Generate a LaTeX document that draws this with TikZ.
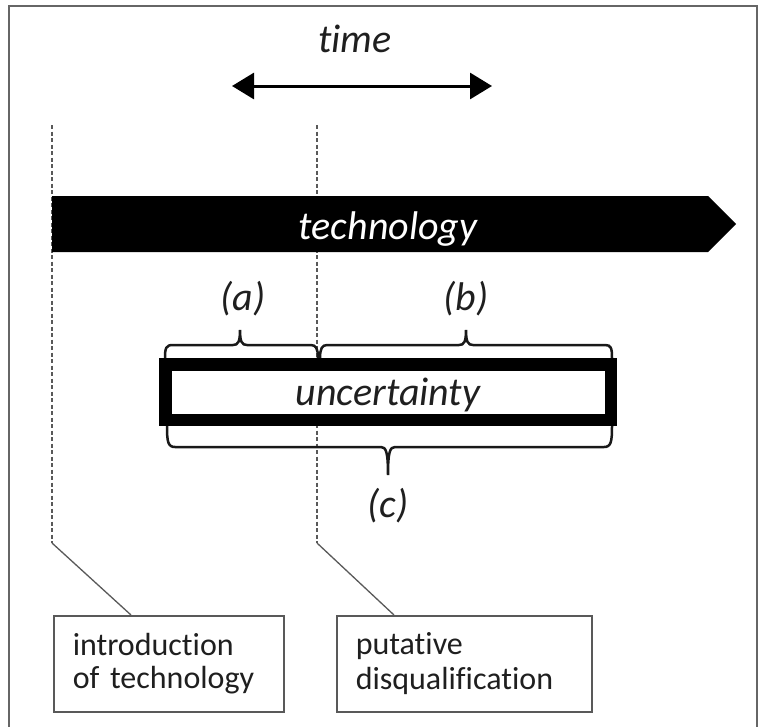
\documentclass[tikz,border=0pt]{standalone}
\usepackage{fontspec}
\setmainfont{Carlito}[RawFeature={-liga}]
\usetikzlibrary{arrows.meta}
\begin{document}
\begin{tikzpicture}[x=1pt,y=-1pt,
  frame/.style={draw=black!60, line width=2pt},
  guide/.style={draw=black!65, line width=1.3pt, dash pattern=on 4pt off 2.5pt},
  leader/.style={draw=black!65, line width=1.3pt},
  bracepath/.style={draw=black!90, line width=2.5pt},
  lbl/.style={font=\fontsize{40}{48}\selectfont\itshape, text=black!88, inner sep=0pt, anchor=base},
  infobox/.style={draw=black!65, line width=1.5pt, fill=white, font=\fontsize{32}{35}\selectfont,
    text=black!88, align=left, minimum height=96pt, inner xsep=19pt, inner ysep=0pt, anchor=north west},
  timearrow/.style={line width=3pt, {Triangle[length=22pt,width=26pt]}-{Triangle[length=22pt,width=26pt]}}
]
\useasboundingbox (0,0) rectangle (758,726);
\draw[frame] (9,6) rectangle (757,760);

% time
\node[lbl] (time) at (355,52) {time};
\coordinate (tL) at (232,86);
\coordinate (tR) at (492,86);
\draw[timearrow] (tL) -- (tR);

% guide lines
\coordinate (g1top) at (52,125);
\coordinate (g1bend) at (52,543);
\coordinate (g2top) at (317,125);
\coordinate (g2bend) at (317,543);
\draw[guide] (g1top) -- (g1bend);
\draw[guide] (g2top) -- (g2bend);

% info boxes
\node[infobox, minimum width=230pt, text width=192pt] (box1) at (53,615) {introduction\\\kern-2pt of technology};
\node[infobox, minimum width=255pt, text width=217pt] (box2) at (336,615) {putative\\disqualification};
\coordinate (foot1) at (131,615);
\coordinate (foot2) at (394,615);
\draw[leader] (g1bend) -- (foot1);
\draw[leader] (g2bend) -- (foot2);

% technology bar
\fill[black] (52,196) -- (708,196) -- (736,224) -- (708,252) -- (52,252) -- cycle;
\node[lbl, text=white] (tech) at (388,239) {technology};

% uncertainty box
\draw[line width=12.5pt, fill=white] (165.25,364.25) rectangle (610.75,419.75);
\node[lbl] (unc) at (388,405) {uncertainty};

% braces
\draw[bracepath] (165,358) .. controls (165,348) and (166,345) .. (173,345) -- (233,345)
  .. controls (238,345) and (240,342) .. (240,330) .. controls (240,342) and (242,345) .. (247,345)
  -- (311,345) .. controls (316,345) and (318,349) .. (318,358);
\draw[bracepath] (320,358) .. controls (320,349) and (322,345) .. (327,345) -- (459,345)
  .. controls (464,345) and (466,342) .. (466,330) .. controls (466,342) and (468,345) .. (473,345)
  -- (605,345) .. controls (611,345) and (612,348) .. (612,358);
\draw[bracepath] (167,426) .. controls (167,442) and (168,447) .. (175,447) -- (381,447)
  .. controls (386,447) and (388,452) .. (388,475) .. controls (388,452) and (390,447) .. (395,447)
  -- (604,447) .. controls (611,447) and (612,442) .. (612,426);

% brace labels
\node[lbl] (la) at (243,310) {(a)};
\node[lbl] (lb) at (466,310) {(b)};
\node[lbl] (lc) at (388,517) {(c)};
\end{tikzpicture}
\end{document}
